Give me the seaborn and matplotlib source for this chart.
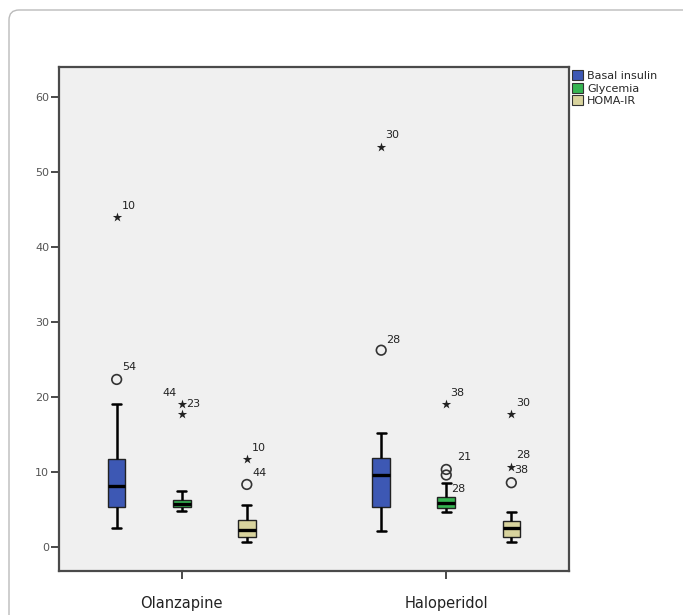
import numpy as np
import pandas as pd
import matplotlib
matplotlib.use("Agg")
import matplotlib.pyplot as plt
from matplotlib.patches import FancyBboxPatch
import seaborn as sns

# ---------------- data ----------------
drugs = ["Olanzapine", "Haloperidol"]
measures = ["Basal insulin", "Glycemia", "HOMA-IR"]

# five-number summaries, rows = drugs, cols = measures
whisker_low = [[2.5, 4.75, 0.63], [2.09, 4.59, 0.59]]
quartile_1 = [[5.25, 5.25, 1.33], [5.29, 5.12, 1.33]]
median = [[8.1, 5.7, 2.23], [9.56, 5.87, 2.45]]
quartile_3 = [[11.7, 6.2, 3.56], [11.87, 6.67, 3.43]]
whisker_high = [[19.0, 7.4, 5.5], [15.1, 8.45, 4.67]]

# outliers (o = outlier, * = extreme)
out_drug = ["Olanzapine", "Olanzapine", "Olanzapine", "Olanzapine", "Olanzapine", "Olanzapine",
            "Haloperidol", "Haloperidol", "Haloperidol", "Haloperidol", "Haloperidol",
            "Haloperidol", "Haloperidol", "Haloperidol"]
out_measure = ["Basal insulin", "Basal insulin", "Glycemia", "Glycemia", "HOMA-IR", "HOMA-IR",
               "Basal insulin", "Basal insulin", "Glycemia", "Glycemia", "Glycemia",
               "HOMA-IR", "HOMA-IR", "HOMA-IR"]
out_value = [44.0, 22.3, 19.07, 17.65, 11.7, 8.3,
             53.3, 26.2, 19.0, 10.3, 9.56,
             17.7, 10.67, 8.53]
out_kind = ["*", "o", "*", "*", "*", "o",
            "*", "o", "*", "o", "o",
            "*", "*", "o"]
out_case = ["10", "54", "23", "44", "10", "44",
            "30", "28", "38", "21", "28",
            "30", "28", "38"]

colors = ["#3D58B4", "#36B552", "#D8D39D"]

# ---------------- figure ----------------
sns.set_theme(style="white")
plt.rcParams["font.family"] = ["DejaVu Sans"]

W, H = 683, 615
fig = plt.figure(figsize=(W / 100, H / 100), dpi=100)
ax = fig.add_axes([59 / W, 1 - 571 / H, (569 - 59) / W, (571 - 67) / H])
ax.set_facecolor("#F0F0F0")

rows = []
for i, d in enumerate(drugs):
    for j, m in enumerate(measures):
        for v in (whisker_low[i][j], quartile_1[i][j], median[i][j],
                  quartile_3[i][j], whisker_high[i][j]):
            rows.append({"drug": d, "measure": m, "value": v})
box_df = pd.DataFrame(rows)

group_width = 0.738
sns.boxplot(data=box_df, x="drug", y="value", hue="measure",
            order=drugs, hue_order=measures, palette=colors,
            width=group_width, gap=0.73, whis=(0, 100), ax=ax,
            linecolor="#222222", linewidth=1.0,
            medianprops=dict(color="black", linewidth=2.4),
            whiskerprops=dict(color="black", linewidth=1.8),
            capprops=dict(color="black", linewidth=1.8),
            capwidths=0.034,
            saturation=1)

# outlier positions follow the dodged hue layout
step = group_width / len(measures)
out_df = pd.DataFrame({"drug": out_drug, "measure": out_measure,
                       "value": out_value, "kind": out_kind, "case": out_case})
out_df["x"] = [drugs.index(d) + (measures.index(m) - 1) * step
               for d, m in zip(out_df["drug"], out_df["measure"])]

circ = out_df[out_df["kind"] == "o"]
star = out_df[out_df["kind"] == "*"]
ax.scatter(circ["x"], circ["value"], s=48, marker="o", facecolors="none",
           edgecolors="#333333", linewidths=1.2, zorder=5)
ax.scatter(star["x"], star["value"], s=50, marker="*", color="#222222",
           linewidths=0, zorder=5)

# case-number labels (offsets in pixels)
label_offsets = [(5, 11, "left"), (6, 12, "left"), (4, 0, "left"), (-5, 11, "right"),
                 (5, 11, "left"), (6, 11, "left"),
                 (4, 12, "left"), (5, 10, "left"), (4, 11, "left"), (11, 12, "left"),
                 (5, -14, "left"),
                 (5, 11, "left"), (5, 12, "left"), (3, -3, "left")]
label_anchor = [0, 1, 2, 2, 4, 5, 6, 7, 8, 9, 10, 11, 12, 12]
for k, (dx, dy, ha) in enumerate(label_offsets):
    r = out_df.iloc[label_anchor[k]]
    ax.annotate(out_case[k], (r["x"], r["value"]), xytext=(dx, dy),
                textcoords="offset pixels", ha=ha, va="center",
                fontsize=8, color="#222222", zorder=6)

# axes styling
ax.set_xlim(-0.464, 1.464)
ax.set_ylim(-3.24, 63.96)
ax.set_yticks([0, 10, 20, 30, 40, 50, 60])
ax.set_xlabel("")
ax.set_ylabel("")
for s in ax.spines.values():
    s.set_color("#4A4A4A")
    s.set_linewidth(1.6)
ax.tick_params(axis="y", direction="out", length=6, width=1.4, color="#4A4A4A",
               labelsize=8, labelcolor="#555555", pad=1, left=True)
ax.tick_params(axis="x", direction="out", length=6, width=1.4, color="#4A4A4A",
               labelsize=10.5, labelcolor="#222222", pad=12, bottom=True)

sns.move_legend(ax, "upper left", bbox_to_anchor=(1.0, 1.0), frameon=False,
                title=None, fontsize=8, handlelength=1.0, handleheight=1.0,
                handletextpad=0.35, labelspacing=0.15, borderaxespad=0.2,
                borderpad=0.1)
for h in ax.get_legend().legend_handles:
    h.set_edgecolor("#333333")
    h.set_linewidth(0.8)

# rounded outer frame
fig.patches.append(FancyBboxPatch((9, -20), 720, 625, transform=None,
                                  boxstyle="round,pad=0,rounding_size=10",
                                  facecolor="none", edgecolor="#BBBBBB",
                                  linewidth=1.0, zorder=0))

fig.savefig("out.png", dpi=100)
